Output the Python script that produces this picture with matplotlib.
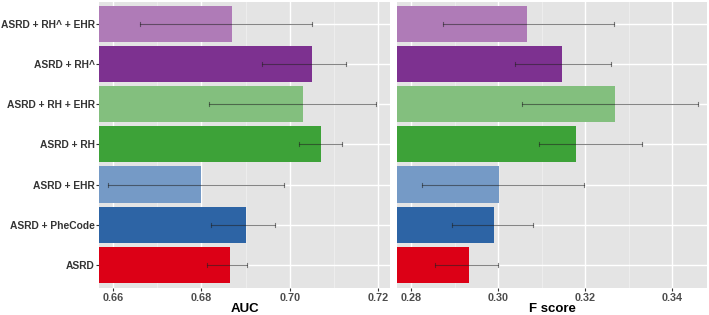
import matplotlib
matplotlib.use("Agg")
import matplotlib.pyplot as plt
from matplotlib.ticker import MultipleLocator

plt.rcParams["font.family"] = ["Liberation Sans", "DejaVu Sans"]

# Models (bottom to top)
models = ["ASRD", "ASRD + PheCode", "ASRD + EHR", "ASRD + RH",
          "ASRD + RH + EHR", "ASRD + RH^", "ASRD + RH^ + EHR"]
colors = ["#DC0016", "#2D64A5", "#759AC6", "#3DA238",
          "#83BF7E", "#7D3190", "#AF7BB7"]

auc = [0.6865, 0.6901, 0.6799, 0.7071, 0.7031, 0.7050, 0.6869]
auc_lo = [0.6812, 0.6821, 0.6589, 0.7020, 0.6816, 0.6938, 0.6660]
auc_hi = [0.6903, 0.6967, 0.6987, 0.7118, 0.7195, 0.7127, 0.7050]

fscore = [0.2932, 0.2991, 0.3001, 0.3179, 0.3269, 0.3146, 0.3066]
f_lo = [0.2855, 0.2894, 0.2825, 0.3093, 0.3054, 0.3038, 0.2872]
f_hi = [0.2999, 0.3080, 0.3198, 0.3330, 0.3459, 0.3259, 0.3267]

W, H = 709, 315
fig = plt.figure(figsize=(W / 100, H / 100), dpi=100)
ax1 = fig.add_axes([99 / W, 1 - 288 / H, (390 - 99) / W, 286 / H])
ax2 = fig.add_axes([397 / W, 1 - 288 / H, (707 - 397) / W, 286 / H])

panels = [
    (ax1, auc, auc_lo, auc_hi, (0.6568, 0.7227), [0.66, 0.68, 0.70, 0.72], "AUC"),
    (ax2, fscore, f_lo, f_hi, (0.2767, 0.348), [0.28, 0.30, 0.32, 0.34], "F score"),
]

ypos = list(range(len(models)))
for ax, vals, lo, hi, xlim, ticks, title in panels:
    ax.set_facecolor("#E4E4E4")
    ax.barh(ypos, [v - xlim[0] for v in vals], left=xlim[0], height=0.9,
            color=colors, zorder=2)
    for y, l, h in zip(ypos, lo, hi):
        ax.plot([l, h], [y, y], color="#222222", alpha=0.55, lw=0.8, zorder=3)
        for e in (l, h):
            ax.plot([e, e], [y - 0.05, y + 0.05], color="#222222", alpha=0.55,
                    lw=0.8, zorder=3)
    ax.set_xlim(*xlim)
    ax.set_ylim(-0.58, len(models) - 0.45)
    ax.set_xticks(ticks)
    ax.set_xticklabels([f"{t:.2f}" for t in ticks])
    ax.xaxis.set_minor_locator(MultipleLocator(0.01))
    ax.grid(True, which="major", color="white", lw=1.0, zorder=0)
    ax.grid(True, which="minor", axis="x", color="#F2F2F2", lw=0.5, zorder=0)
    ax.set_axisbelow(True)
    for s in ax.spines.values():
        s.set_visible(False)
    ax.tick_params(axis="both", which="major", length=2, color="#333333",
                   labelsize=7.8, labelcolor="#4D4D4D", pad=1.5)
    ax.tick_params(axis="x", which="minor", length=0)
    for lab in ax.get_xticklabels():
        lab.set_fontweight("bold")
    ax.set_xlabel(title, fontsize=9.5, fontweight="bold", color="black", labelpad=0)

ax1.set_yticks(ypos)
ax1.set_yticklabels(models, fontweight="bold", fontsize=7.4, color="#333333")
ax1.tick_params(axis="y", pad=1)
ax2.set_yticks(ypos)
ax2.tick_params(axis="y", labelleft=False, length=0)

fig.savefig("out.png", dpi=100)
